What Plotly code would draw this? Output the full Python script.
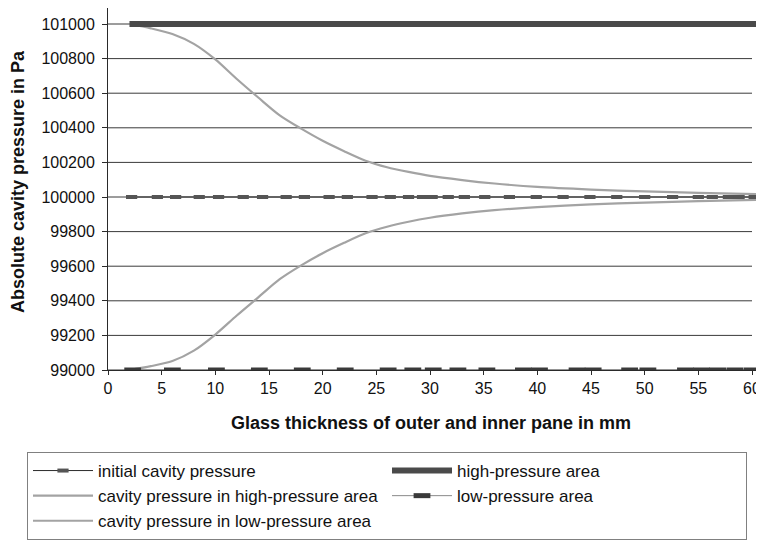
import plotly.graph_objects as go

# ---- data ----
x_curve = [2, 4, 6, 8, 10, 12, 14, 16, 18, 20, 22, 24, 26, 28, 30, 33, 36, 40, 45, 50, 55, 61]
p_high = [101000, 100975, 100942, 100885, 100795, 100682, 100575, 100472, 100395, 100325, 100265,
          100210, 100172, 100145, 100122, 100098, 100078, 100058, 100043, 100032, 100024, 100016]
p_low = [99000, 99022, 99052, 99112, 99205, 99315, 99420, 99525, 99605, 99675, 99735,
         99790, 99828, 99857, 99880, 99905, 99924, 99942, 99957, 99968, 99976, 99984]

x_initial = [2.2, 4.6, 6.3, 8.5, 10.3, 12.6, 14.4, 16.6, 18.3, 20.6, 22.3, 24.6, 26.3, 28.0, 29.3,
             30.2, 31.7, 33.2, 35.1, 37.4, 39.9, 42.4, 44.9, 47.4, 50.0, 52.6, 55.0, 56.3, 57.8,
             58.8, 60.2]
p_initial_value = 100000

x_high_area = [2, 61]
p_high_area_value = 101000

x_low_area = [2.3, 6.0, 10.1, 14.1, 18.1, 22.1, 26.1, 28.4, 30.3, 32.6, 35.3, 38.7, 40.2, 43.7,
              45.2, 48.6, 50.3, 53.8, 55.3, 56.8, 58.4, 60.0]
p_low_area_value = 99000

x_ticks = [0, 5, 10, 15, 20, 25, 30, 35, 40, 45, 50, 55, 60]
y_ticks = [99000, 99200, 99400, 99600, 99800, 100000, 100200, 100400, 100600, 100800, 101000]

names = ["initial cavity pressure", "high-pressure area", "cavity pressure in high-pressure area",
         "low-pressure area", "cavity pressure in low-pressure area"]

FONT = "Liberation Sans, Arial, sans-serif"

# the page body has an 8px margin, so the figure is sized/offset to fill the window
OFF = 8
W, H = 764 - OFF, 541 - OFF
L, R, T, B = 108 - OFF, 0, 0, 541 - 370
PW, PH = W - L - R, H - T - B
Y_TOP = 99000 + 2000 * PH / (370 - 24)       # 101000 sits at page y=24
X_MAX = 60 * PW / (752 - 108)                # 60 sits at page x=752


def px(page_x):
    return (page_x - OFF - L) / PW


def py(page_y):
    return ((H - B) - (page_y - OFF)) / PH


fig = go.Figure()

# gridlines (drawn from tick arrays, spanning the axis 0..60)
for v in y_ticks:
    fig.add_shape(type="line", xref="x", yref="y", x0=x_ticks[0], x1=x_ticks[-1], y0=v, y1=v,
                  line=dict(color="#3a3a3a", width=1), layer="below")

fig.add_trace(go.Scatter(
    x=x_curve, y=p_high, mode="lines", name=names[2], legendrank=3,
    line=dict(color="#a3a3a3", width=2.2, shape="spline", smoothing=0.8)))
fig.add_trace(go.Scatter(
    x=x_curve, y=p_low, mode="lines", name=names[4], legendrank=5,
    line=dict(color="#a3a3a3", width=2.2, shape="spline", smoothing=0.8)))

fig.add_trace(go.Scatter(
    x=x_initial, y=[p_initial_value] * len(x_initial), mode="lines+markers", name=names[0],
    legendrank=1,
    line=dict(color="#2a2a2a", width=1),
    marker=dict(symbol="line-ew", size=8, color="#555555",
                line=dict(color="#555555", width=4))))

fig.add_trace(go.Scatter(
    x=x_high_area, y=[p_high_area_value] * len(x_high_area), mode="lines", name=names[1],
    legendrank=2,
    line=dict(color="#4a4a4a", width=6)))

fig.add_trace(go.Scatter(
    x=x_low_area, y=[p_low_area_value] * len(x_low_area), mode="lines+markers", name=names[3],
    legendrank=4,
    line=dict(color="#8a8a8a", width=1),
    marker=dict(symbol="line-ew", size=12, color="#3a3a3a",
                line=dict(color="#3a3a3a", width=5))))

fig.update_layout(
    width=W, height=H,
    margin=dict(l=L, r=R, t=T, b=B, autoexpand=False),
    paper_bgcolor="white", plot_bgcolor="white",
    font=dict(family=FONT, size=16, color="#111111"),
    showlegend=True,
    legend=dict(
        orientation="h", x=px(27), y=py(452), xanchor="left", yanchor="top",
        entrywidth=284, entrywidthmode="pixels", itemwidth=60,
        bordercolor="#808080", borderwidth=1, bgcolor="white",
        font=dict(family=FONT, size=17, color="#111111"),
        traceorder="normal"),
    xaxis=dict(
        range=[0, X_MAX], tickmode="array", tickvals=x_ticks,
        ticktext=[str(t) for t in x_ticks],
        showgrid=False, zeroline=False, showline=True, linecolor="#2a2a2a", linewidth=1,
        ticks="outside", ticklen=4, tickcolor="#2a2a2a",
        tickfont=dict(family=FONT, size=16, color="#111111")),
    yaxis=dict(
        range=[99000, Y_TOP], tickmode="array", tickvals=y_ticks,
        ticktext=[str(t) for t in y_ticks],
        showgrid=False, zeroline=False, showline=True, linecolor="#2a2a2a", linewidth=1,
        ticks="outside", ticklen=5, tickcolor="#2a2a2a", ticklabelstandoff=4,
        tickfont=dict(family=FONT, size=16, color="#111111")),
)

fig.add_annotation(text="<b>Glass thickness of outer and inner pane in mm</b>",
                   xref="paper", yref="paper", x=px(431), y=py(423),
                   xanchor="center", yanchor="middle", showarrow=False,
                   font=dict(family=FONT, size=18, color="#111111"))
fig.add_annotation(text="<b>Absolute cavity pressure in Pa</b>",
                   xref="paper", yref="paper", x=px(18), y=py(182),
                   xanchor="center", yanchor="middle", showarrow=False, textangle=-90,
                   font=dict(family=FONT, size=18, color="#111111"))

fig.write_html("out.html")
